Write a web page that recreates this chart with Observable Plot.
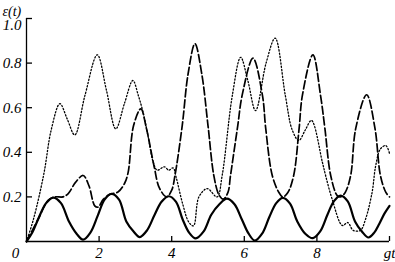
<!DOCTYPE html>
<html><head><meta charset="utf-8">
<script src="https://cdn.jsdelivr.net/npm/d3@7"></script>
<script src="https://cdn.jsdelivr.net/npm/@observablehq/plot@0.6"></script>
<style>
html,body{margin:0;padding:0;background:#fff}
#chart svg text{font-family:"Liberation Serif","DejaVu Serif",serif !important;font-style:italic !important}
</style>
</head><body><div id="chart"></div>
<script>
// Solid curve
const solidT = [0,0.16,0.32,0.54,0.74,0.95,1.17,1.38,1.56,1.76,1.96,2.15,2.34,2.55,2.75,2.95,3.12,3.32,3.53,3.72,3.92,4.12,4.30,4.48,4.66,4.88,5.09,5.32,5.52,5.73,5.93,6.12,6.29,6.49,6.69,6.88,7.06,7.26,7.46,7.68,7.89,8.09,8.29,8.47,8.65,8.85,9.05,9.24,9.42,9.58,9.72,9.86,10.0];
const solidV = [0,0.04,0.10,0.172,0.197,0.172,0.09,0.035,0.008,0.04,0.115,0.188,0.214,0.188,0.09,0.045,0.02,0.05,0.12,0.178,0.203,0.178,0.10,0.04,0.014,0.045,0.12,0.168,0.192,0.167,0.10,0.035,0.004,0.035,0.11,0.172,0.196,0.17,0.09,0.035,0.015,0.045,0.12,0.181,0.206,0.18,0.09,0.045,0.018,0.04,0.08,0.125,0.16];
// Dashed curve
const dashT = [0,0.32,0.6,0.78,1.0,1.15,1.35,1.56,1.72,1.88,1.97,2.12,2.3,2.52,2.7,2.8,2.95,3.15,3.3,3.52,3.66,3.86,4.0,4.09,4.29,4.45,4.64,4.83,5.0,5.16,5.3,5.42,5.55,5.62,5.82,5.94,6.24,6.5,6.59,6.77,6.95,7.06,7.2,7.36,7.51,7.6,7.89,8.1,8.22,8.38,8.56,8.65,8.78,8.93,9.07,9.37,9.6,9.75,9.9,10.0];
const dashV = [0,0.10,0.185,0.2,0.2,0.215,0.265,0.296,0.25,0.16,0.154,0.19,0.212,0.222,0.26,0.31,0.52,0.595,0.51,0.333,0.24,0.2,0.23,0.296,0.52,0.75,0.887,0.75,0.52,0.296,0.21,0.19,0.22,0.296,0.52,0.655,0.822,0.655,0.507,0.296,0.221,0.2,0.22,0.296,0.507,0.655,0.837,0.655,0.507,0.296,0.206,0.2,0.22,0.296,0.507,0.658,0.507,0.296,0.22,0.2];
// Dotted curve
const dotT = [0,0.2,0.48,0.68,0.92,1.12,1.33,1.61,1.95,2.2,2.46,2.7,2.93,3.08,3.21,3.34,3.49,3.6,3.8,3.92,4.04,4.12,4.3,4.47,4.6,4.75,4.98,5.25,5.39,5.67,5.9,6.1,6.31,6.6,6.85,7.13,7.32,7.5,7.68,7.85,8.15,8.24,8.42,8.7,8.85,9.0,9.2,9.34,9.52,9.62,9.75,9.9,10.0];
const dotV = [0,0.105,0.305,0.5,0.618,0.55,0.478,0.655,0.837,0.68,0.505,0.62,0.722,0.655,0.58,0.48,0.356,0.32,0.335,0.32,0.33,0.29,0.17,0.087,0.07,0.2,0.237,0.2,0.296,0.655,0.826,0.72,0.587,0.8,0.912,0.655,0.5,0.453,0.5,0.543,0.356,0.296,0.19,0.072,0.085,0.05,0.05,0.1,0.22,0.34,0.415,0.43,0.395];

const xTicks = [2,4,6,8,10];
const xTickLabels = ["2","4","6","8","gt"];
const originLabel = "0";
const yTicks = [0.2,0.4,0.6,0.8];
const yTickLabels = ["0.2","0.4","0.6","0.8"];
const yTopTick = 1.0;
const yTopLabel = "1.0";
const yLabel = "ε(t)";

const toRows = (T, V) => T.map((t, i) => ({t, v: V[i]}));
const solid = toRows(solidT, solidV);
const dashed = toRows(dashT, dashV);
const dotted = toRows(dotT, dotV);

const font = {fontFamily: "Liberation Serif", fontStyle: "italic", fontSize: 15, fill: "black"};

const chart = Plot.plot({
  width: 395, height: 262,
  marginLeft: 26, marginRight: 6, marginTop: 18, marginBottom: 21,
  style: {background: "#fff", overflow: "visible", fontFamily: "Liberation Serif"},
  x: {domain: [0, 10], axis: null},
  y: {domain: [0, 1], axis: null},
  marks: [
    Plot.line(dotted, {x: "t", y: "v", curve: "catmull-rom", stroke: "black", strokeWidth: 1.3, strokeDasharray: "1.3,2"}),
    Plot.line(dashed, {x: "t", y: "v", curve: "catmull-rom", stroke: "black", strokeWidth: 1.7, strokeDasharray: "8,3"}),
    Plot.line(solid, {x: "t", y: "v", curve: "catmull-rom", stroke: "black", strokeWidth: 2.2}),
    Plot.ruleX([0], {stroke: "black", strokeWidth: 1.3}),
    Plot.ruleY([0], {stroke: "black", strokeWidth: 1.3}),
    Plot.tickY([...yTicks, yTopTick], {y: d => d, insetRight: 357, stroke: "black", strokeWidth: 1.3}),
    Plot.tickX(xTicks, {x: d => d, insetTop: 218, stroke: "black", strokeWidth: 1.3}),
    Plot.text(yTicks, {x: 0, y: d => d, text: (d, i) => yTickLabels[i], textAnchor: "end", dx: -5, ...font}),
    Plot.text([yTopTick], {x: 0, y: d => d, text: () => yTopLabel, textAnchor: "end", dx: -5, dy: 7, ...font}),
    Plot.text(xTicks, {x: d => d, y: 0, text: (d, i) => xTickLabels[i], dy: 12, ...font}),
    Plot.text([originLabel], {x: 0, y: 0, text: d => d, dx: -11, dy: 12, ...font}),
    Plot.text([yLabel], {frameAnchor: "top-left", text: d => d, textAnchor: "start", lineAnchor: "bottom", dx: -24, dy: -3, ...font, fontSize: 14})
  ]
});
document.getElementById("chart").appendChild(chart);
</script>
</body></html>
